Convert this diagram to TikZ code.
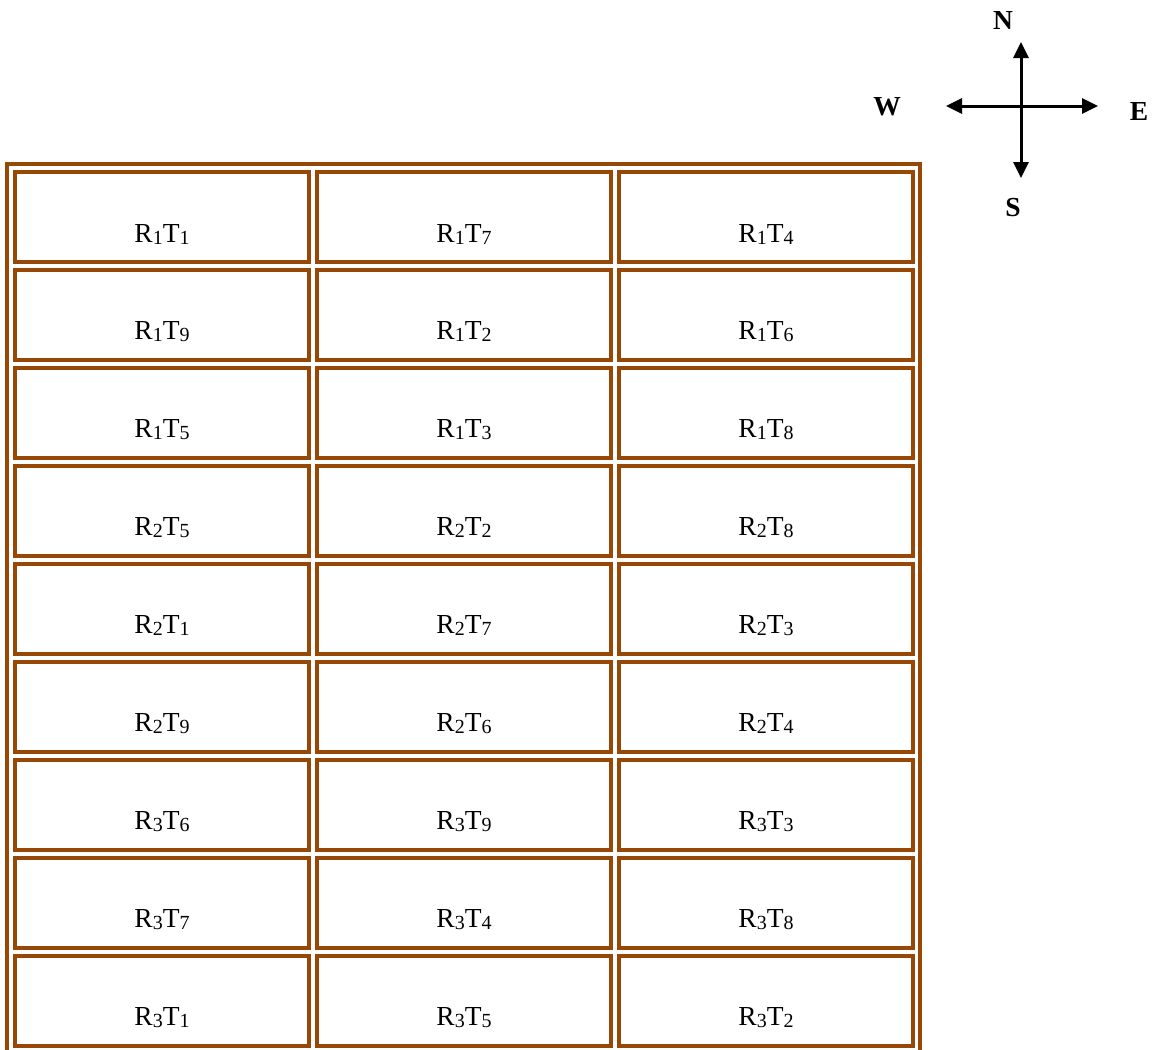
\documentclass[tikz,border=0pt]{standalone}
\usepackage{fontspec}
\setmainfont{Liberation Serif}
\usetikzlibrary{arrows.meta}
\definecolor{soil}{HTML}{984806}
\newcommand{\lowsub}[1]{\raisebox{-2pt}{\fontsize{20}{22}\selectfont #1}}
\tikzset{
	plotbox/.style={draw=soil,line width=4pt,minimum width=294pt,minimum height=90pt,
		text height=50pt,text depth=0pt,inner sep=0pt,font=\fontsize{27.5}{30}\selectfont},
	dirlabel/.style={font=\bfseries\fontsize{27.5}{30}\selectfont},
	compass/.style={line width=3pt,{Triangle[length=16pt,width=15pt]}-{Triangle[length=16pt,width=15pt]}}
}
\begin{document}
\begin{tikzpicture}[x=1pt,y=-1pt]
			\useasboundingbox (0,0) rectangle (1160,1050);
			% outer frame of the field
			\draw[soil,line width=4pt] (7,1050)--(7,164)--(920,164)--(920,1050);
			\foreach \i/\rep/\ta/\tb/\tc in {1/1/1/7/4,2/1/9/2/6,3/1/5/3/8,4/2/5/2/8,5/2/1/7/3,6/2/9/6/4,7/3/6/9/3,8/3/7/4/8,9/3/1/5/2}
			{
			\node[plotbox] (p\i-1) at (162,{217+(\i-1)*97.94}) {R\lowsub{\rep}T\lowsub{\ta}};
			\node[plotbox] (p\i-2) at (464,{217+(\i-1)*97.94}) {R\lowsub{\rep}T\lowsub{\tb}};
			\node[plotbox] (p\i-3) at (766,{217+(\i-1)*97.94}) {R\lowsub{\rep}T\lowsub{\tc}};
			}
			% compass
			\coordinate (west) at (946,106);
			\coordinate (east) at (1098,106);
			\coordinate (north) at (1021,42);
			\coordinate (south) at (1021,178);
			\draw[compass] (west)--(east);
			\draw[compass] (north)--(south);
			\node[dirlabel] (N) at (1003,20) {N};
			\node[dirlabel] (W) at (887,107) {W};
			\node[dirlabel] (E) at (1139,111) {E};
			\node[dirlabel] (S) at (1013,208) {S};
		\end{tikzpicture}
\end{document}
